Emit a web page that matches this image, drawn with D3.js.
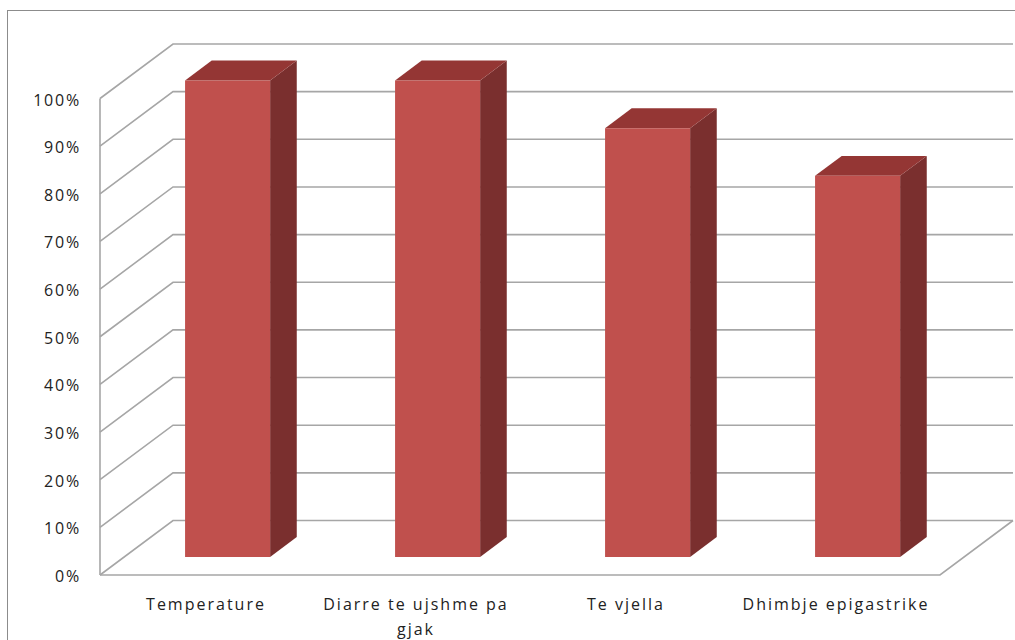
<!DOCTYPE html>
<html>
<head>
<meta charset="utf-8">
<script src="https://cdn.jsdelivr.net/npm/d3@7"></script>
<style>
  html, body { margin: 0; padding: 0; background: #fff; }
  svg { display: block; }
  text { font-family: "Open Sans", "Noto Sans", sans-serif; fill: #222; }
</style>
</head>
<body>
<svg id="chart" width="1015" height="640"></svg>
<script>
// Symptom frequencies
const categories = ["Temperature", "Diarre te ujshme pa gjak", "Te vjella", "Dhimbje epigastrike"];
const values = [1.0, 1.0, 0.9, 0.8];
const tickValues = [0, 0.1, 0.2, 0.3, 0.4, 0.5, 0.6, 0.7, 0.8, 0.9, 1.0];

const svg = d3.select("#chart");
const W = 1015, H = 640;

// Pseudo-3D frame: front plane plus a depth offset towards the back wall
const DEPTH_X = 73, DEPTH_Y = -54.5;
const y = d3.scaleLinear().domain([0, 1]).range([575, 98.5]);
const x = d3.scaleBand().domain(categories).range([100, 940])
  .paddingInner(0.595).paddingOuter(0.2975);
const fmt = d3.format(".0%");

// project a point on the front plane (px, value) back by depth fraction z
const P = (px, v, z) => [px + DEPTH_X * z, y(v) + DEPTH_Y * z];

// chart area border
svg.append("rect")
  .attr("x", 7.5).attr("y", 10.5)
  .attr("width", W + 20).attr("height", H + 20)
  .attr("fill", "none").attr("stroke", "#8c8c8c").attr("stroke-width", 1);

const grid = svg.append("g")
  .attr("fill", "none").attr("stroke", "#a6a6a6").attr("stroke-width", 1.6);

const xL = x.range()[0], xR = x.range()[1];

// side wall + back wall gridlines
tickValues.forEach(t => {
  const a = P(xL, t, 0), b = P(xL, t, 1), c = P(xR, t, 1);
  grid.append("polyline").attr("points", [a, b, c].map(p => p.join(",")).join(" "));
});

// left wall front edge
grid.append("line")
  .attr("x1", xL).attr("y1", y(1)).attr("x2", xL).attr("y2", y(0));

// floor outline (front edge and right edge)
const f0 = P(xL, 0, 0), f1 = P(xR, 0, 0), f2 = P(xR, 0, 1);
grid.append("polyline").attr("points", [f0, f1, f2].map(p => p.join(",")).join(" "));

// value axis labels
svg.append("g").selectAll("text").data(tickValues).join("text")
  .attr("x", 81).attr("y", d => y(d) + 7)
  .attr("text-anchor", "end")
  .attr("font-size", 16).attr("letter-spacing", 1.8)
  .text(d => fmt(d));

// columns
const Z0 = 0.33, Z1 = 0.695;
const colors = { front: "#c0504d", top: "#943634", side: "#7a2f2e" };
const poly = pts => pts.map(p => p.join(",")).join(" ");

const bars = svg.append("g").selectAll("g").data(categories.map((c, i) => ({ c, v: values[i] })))
  .join("g");

bars.each(function (d) {
  const g = d3.select(this);
  const xa = x(d.c) - 1.5, xb = x(d.c) + x.bandwidth() - 1.5;
  // front face
  const fa = P(xa, 0, Z0), fb = P(xb, 0, Z0), fc = P(xb, d.v, Z0), fd = P(xa, d.v, Z0);
  // back points
  const bb = P(xb, 0, Z1), bc = P(xb, d.v, Z1), bd = P(xa, d.v, Z1);
  g.append("polygon").attr("points", poly([fb, bb, bc, fc])).attr("fill", colors.side);
  g.append("polygon").attr("points", poly([fd, fc, bc, bd])).attr("fill", colors.top);
  g.append("polygon").attr("points", poly([fa, fb, fc, fd])).attr("fill", colors.front);
});

// category labels, wrapped to the category width
const labels = svg.append("g").selectAll("text").data(categories).join("text")
  .attr("text-anchor", "middle")
  .attr("font-size", 16).attr("letter-spacing", 2)
  .attr("x", d => x(d) + x.bandwidth() / 2 + 1)
  .attr("y", 610);

labels.each(function (d) {
  const el = d3.select(this);
  const words = d.split(" ");
  const maxW = 195;
  let line = [];
  let tspan = el.append("tspan").attr("x", el.attr("x")).attr("dy", 0);
  words.forEach(w => {
    line.push(w);
    tspan.text(line.join(" "));
    if (tspan.node().getComputedTextLength() > maxW && line.length > 1) {
      line.pop();
      tspan.text(line.join(" "));
      line = [w];
      tspan = el.append("tspan").attr("x", el.attr("x")).attr("dy", 25).text(w);
    }
  });
});
</script>
</body>
</html>
